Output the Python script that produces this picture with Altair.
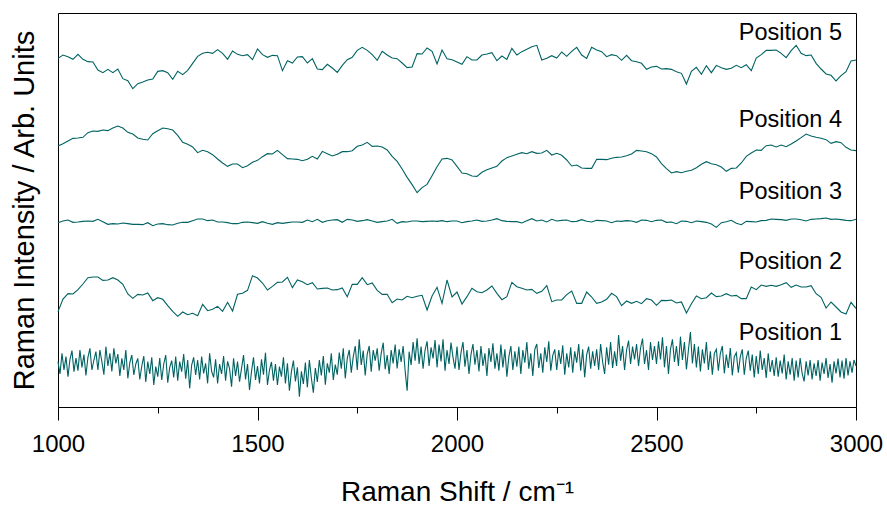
import altair as alt
import pandas as pd

# ---- data (arbitrary intensity units) ----
series_names = ["Position 1", "Position 2", "Position 3", "Position 4", "Position 5"]
offsets = [11, 251, 491, 641, 941]

step_coarse = 12.5   # cm-1 sampling for positions 2-5
step_fine = 5.0      # cm-1 sampling for position 1
x_start = 1000.0

pos5 = [105,115,110,102,117,102,95,94,70,62,
        72,62,73,44,38,14,29,34,40,43,
        66,68,62,42,66,56,69,90,111,120,
        123,120,131,120,102,127,117,113,116,101,
        133,116,108,114,113,68,98,91,109,110,
        91,104,73,71,87,76,63,84,101,108,
        129,138,129,116,99,126,115,106,104,91,
        77,79,119,118,136,126,88,130,104,101,
        94,87,110,
        100,100,115,118,122,98,112,102,135,115,
        125,132,140,144,100,105,113,106,124,111,
        126,138,115,105,138,130,125,110,116,113,
        99,114,98,95,90,72,79,81,73,74,
        72,65,60,28,66,78,57,83,62,84,
        77,72,75,84,77,86,68,106,116,129,
        129,130,120,107,128,144,120,113,115,90,
        73,58,54,37,53,65,97,100]

pos4 = [142,149,157,165,166,168,182,187,186,190,
        188,196,202,196,183,178,166,162,160,179,
        188,196,194,190,174,153,147,139,122,129,
        125,116,103,91,81,88,88,77,83,93,
        99,110,119,118,129,116,104,103,102,98,
        102,111,103,126,119,112,117,125,125,128,
        141,145,153,141,142,139,130,111,96,73,
        48,26,2,17,27,53,80,103,105,100,
        81,61,59,
        52,51,63,71,76,81,97,107,112,117,
        122,119,125,120,121,129,115,120,114,100,
        82,85,76,75,75,102,102,101,105,108,
        109,113,118,129,127,125,119,109,89,74,
        61,65,62,66,69,77,87,95,89,86,
        79,66,75,76,91,111,121,130,129,143,
        145,139,145,140,148,157,167,178,172,168,
        165,161,150,155,152,138,130,128]

pos3 = [62,67,70,63,64,66,67,66,72,65,
        57,59,58,61,59,57,57,56,62,53,
        58,59,56,55,60,63,63,68,73,73,
        68,70,64,64,62,59,59,63,64,62,
        60,65,60,57,62,60,62,64,64,63,
        70,65,72,63,68,70,71,63,72,70,
        66,68,71,67,63,65,67,72,60,65,
        64,67,67,65,66,67,66,68,65,67,
        67,62,65,
        67,70,66,67,70,74,68,66,65,65,
        61,68,74,67,70,64,72,67,69,70,
        65,66,71,66,64,69,68,67,62,67,
        66,68,67,63,70,69,65,69,70,63,
        64,59,67,66,62,67,65,63,58,48,
        62,65,69,60,56,66,65,64,68,69,
        73,72,71,69,73,73,71,67,72,73,
        74,76,72,73,71,69,68,72]

pos2 = [35,73,89,88,101,118,137,139,139,129,
        130,137,130,117,88,75,87,85,91,68,
        77,72,53,36,21,34,26,30,23,57,
        38,42,51,36,63,37,87,90,99,143,
        136,121,100,111,123,124,138,107,130,125,
        116,122,103,105,106,100,101,106,80,117,
        117,137,116,121,99,87,87,62,73,70,
        81,77,81,84,40,82,108,60,130,79,
        94,58,80,
        105,95,92,100,112,90,71,80,123,110,
        105,100,102,90,96,113,65,70,70,86,
        97,60,60,94,79,60,64,72,90,80,
        53,67,60,66,59,74,70,54,69,68,
        70,61,64,31,59,82,74,77,91,80,
        82,89,82,84,74,74,109,101,115,111,
        114,111,116,122,108,115,109,109,113,89,
        78,46,64,49,34,28,63,45]

pos1 = [125,88,150,100,140,80,132,158,95,136,
        98,160,108,146,84,138,165,100,130,155,
        100,160,125,86,170,112,150,96,165,120,
        148,82,135,100,160,75,122,145,85,118,
        135,72,112,142,64,125,88,138,55,110,
        80,136,70,118,145,62,108,128,78,140,
        68,125,95,148,74,130,45,115,138,85,
        130,72,140,90,120,60,150,96,78,132,
        60,118,88,142,68,126,104,50,135,82,
        125,65,105,145,72,118,40,96,138,70,
        112,60,132,86,152,55,100,124,68,118,
        55,110,80,138,60,120,38,96,128,66,
        108,20,96,58,122,48,130,76,32,106,
        64,130,84,142,56,120,92,150,70,116,
        86,152,104,165,75,135,160,92,140,172,
        100,192,115,158,84,148,172,95,160,128,
        165,98,150,182,102,145,88,160,120,176,
        105,162,124,172,98,38,155,115,184,128,
        195,118,170,104,160,186,112,168,135,190,
        108,176,126,192,98,160,118,182,138,104,
        170,100,152,184,110,160,88,146,178,116,
        160,96,172,112,150,82,166,124,180,104,
        150,98,176,108,162,80,140,172,100,156,
        110,170,88,160,122,184,104,150,82,162,
        178,106,150,92,168,124,186,98,144,162,
        100,160,118,174,86,150,108,168,92,156,
        122,178,98,162,78,146,170,104,156,112,
        162,100,178,124,88,168,116,184,106,156,
        112,205,128,172,100,160,188,118,170,132,
        178,112,166,194,118,160,100,184,130,172,
        118,186,132,198,108,172,88,162,192,124,
        172,112,200,130,184,102,160,214,120,178,
        108,170,96,162,120,184,100,156,86,150,
        162,98,150,172,90,146,106,166,84,140,
        152,92,140,162,86,136,158,98,146,78,
        142,88,158,100,136,76,150,94,130,82,
        138,80,128,90,146,72,126,86,136,68,
        128,78,136,90,66,126,84,130,72,120,
        82,130,68,122,88,136,76,118,62,126,
        90,134,78,128,74,136,84,126,92,130,
        112]

label_x = [2965, 2965, 2965, 2965, 2965]
label_y = [222, 435, 645, 861, 1122]

major_ticks = [1000, 1500, 2000, 2500, 3000]
minor_ticks = [1250, 1750, 2250, 2750]

# ---- build table ----
rows = []
all_series = [pos1, pos2, pos3, pos4, pos5]
for name, off, vals in zip(series_names, offsets, all_series):
    step = step_fine if name == "Position 1" else step_coarse
    for i, v in enumerate(vals):
        rows.append({"series": name, "shift": x_start + step * i, "intensity": off + v})
df = pd.DataFrame(rows)

labels_df = pd.DataFrame({"label": series_names, "x": label_x, "y": label_y})

FONT = "Liberation Sans"
LINE_COLOR = "#006262"

xscale = alt.Scale(domain=[1000, 3000], nice=False, zero=False)
yscale = alt.Scale(domain=[0, 1182], nice=False, zero=False)

y_axis = alt.Axis(labels=False, ticks=False, domain=False, grid=False,
                  title="Raman Intensity / Arb. Units", titleFont=FONT,
                  titleFontSize=29, titleFontWeight="normal", titleColor="black",
                  titlePadding=19)

lines = alt.Chart(df).mark_line(strokeWidth=1.1, color=LINE_COLOR).encode(
    x=alt.X("shift:Q", scale=xscale,
            axis=alt.Axis(values=major_ticks, grid=False, tickSize=13, tickColor="black",
                          domainColor="black", labelColor="black", labelFont=FONT,
                          labelFontSize=24, labelPadding=12, format="d",
                          labelFlush=False, labelOverlap=False,
                          title="Raman Shift / cm\u207b\u00b9", titleFont=FONT,
                          titleFontSize=28, titleFontWeight="normal", titleColor="black",
                          titleBaseline="alphabetic", titleY=93)),
    y=alt.Y("intensity:Q", scale=yscale, axis=y_axis),
    detail="series:N",
)

texts = alt.Chart(labels_df).mark_text(align="right", baseline="middle", font=FONT,
                                        fontSize=23.5, color="black").encode(
    x=alt.X("x:Q", scale=xscale,
            axis=alt.Axis(values=minor_ticks, orient="bottom", labels=False, domain=False,
                          grid=False, tickSize=6, tickColor="black", title=None)),
    y=alt.Y("y:Q", scale=yscale, axis=y_axis),
    text="label:N",
)

chart = alt.layer(lines, texts).resolve_axis(x="independent").properties(
    width=798, height=394,
    background="white",
    autosize=alt.AutoSizeParams(type="none"),
    padding={"left": 58, "top": 13, "right": 31, "bottom": 98},
).configure_view(stroke="black", strokeWidth=1)

chart.save("out.html", embed_options={"renderer": "svg", "actions": False})
